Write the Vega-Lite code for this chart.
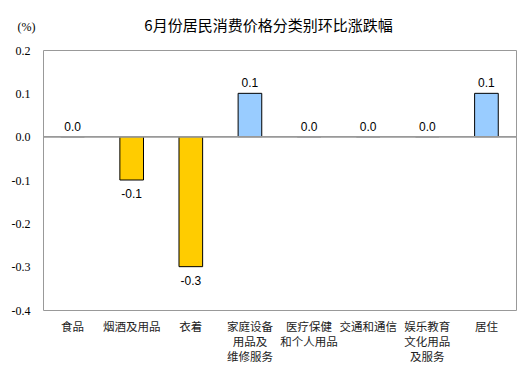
{
  "$schema": "https://vega.github.io/schema/vega-lite/v6.json",
  "width": 473,
  "height": 260,
  "autosize": "none",
  "padding": {"left": 43, "top": 50, "right": 13, "bottom": 59},
  "background": "white",
  "title": {
    "text": "6月份居民消费价格分类别环比涨跌幅",
    "font": "Noto Sans CJK SC",
    "fontSize": 15,
    "fontWeight": "normal",
    "color": "#000",
    "anchor": "middle",
    "frame": "group",
    "offset": 0,
    "dy": 14,
    "dx": -11
  },
  "config": {
    "view": {"stroke": "#999", "strokeWidth": 1}
  },
  "data": {
    "values": [
      {"cat": "食品", "v": 0.0},
      {"cat": "烟酒及用品", "v": -0.1},
      {"cat": "衣着", "v": -0.3},
      {"cat": "家庭设备|用品及|维修服务", "v": 0.1},
      {"cat": "医疗保健|和个人用品", "v": 0.0},
      {"cat": "交通和通信", "v": 0.0},
      {"cat": "娱乐教育|文化用品|及服务", "v": 0.0},
      {"cat": "居住", "v": 0.1}
    ]
  },
  "encoding": {
    "x": {
      "field": "cat",
      "type": "nominal",
      "sort": null,
      "scale": {"paddingInner": 0.6, "paddingOuter": 0.3},
      "axis": {
        "title": null,
        "domain": false,
        "ticks": false,
        "labelAngle": 0,
        "labelExpr": "split(datum.label, '|')",
        "labelFont": "Noto Sans CJK SC",
        "labelFontSize": 11.5,
        "labelColor": "#222",
        "labelLineHeight": 15,
        "labelPadding": 11,
        "labelBaseline": "top"
      }
    },
    "y": {
      "field": "v",
      "type": "quantitative",
      "scale": {"domain": [-0.4, 0.2], "nice": false},
      "axis": {
        "values": [-0.4, -0.3, -0.2, -0.1, 0, 0.1, 0.2],
        "labelExpr": "replace(format(datum.value, '.1f'), '\u2212', '-')",
        "grid": false,
        "domain": false,
        "ticks": false,
        "labelPadding": 13,
        "labelFont": "Liberation Serif",
        "labelFontSize": 12,
        "labelColor": "#000",
        "title": "(%)",
        "titleAngle": 0,
        "titleFont": "Liberation Serif",
        "titleFontSize": 12,
        "titleFontWeight": "normal",
        "titleColor": "#000",
        "titleAlign": "left",
        "titleBaseline": "alphabetic",
        "titleX": -26,
        "titleY": -20
      }
    }
  },
  "layer": [
    {
      "mark": {"type": "bar", "stroke": "#000", "strokeWidth": 1},
      "encoding": {
        "color": {
          "condition": {"test": "datum.v < 0", "value": "#FFCC00"},
          "value": "#99CCFF"
        }
      }
    },
    {
      "mark": {"type": "rule", "color": "#999", "strokeWidth": 1},
      "encoding": {"y": {"datum": 0, "type": "quantitative"}, "x": null}
    },
    {
      "transform": [
        {"filter": "datum.v >= 0"},
        {"calculate": "replace(format(datum.v, '.1f'), '\u2212', '-')", "as": "lab"}
      ],
      "mark": {"type": "text", "baseline": "bottom", "dy": -3, "font": "Liberation Sans", "fontSize": 12, "color": "#000"},
      "encoding": {"text": {"field": "lab", "type": "nominal"}}
    },
    {
      "transform": [
        {"filter": "datum.v < 0"},
        {"calculate": "replace(format(datum.v, '.1f'), '\u2212', '-')", "as": "lab"}
      ],
      "mark": {"type": "text", "baseline": "top", "dy": 9, "font": "Liberation Sans", "fontSize": 12, "color": "#000"},
      "encoding": {"text": {"field": "lab", "type": "nominal"}}
    }
  ]
}
